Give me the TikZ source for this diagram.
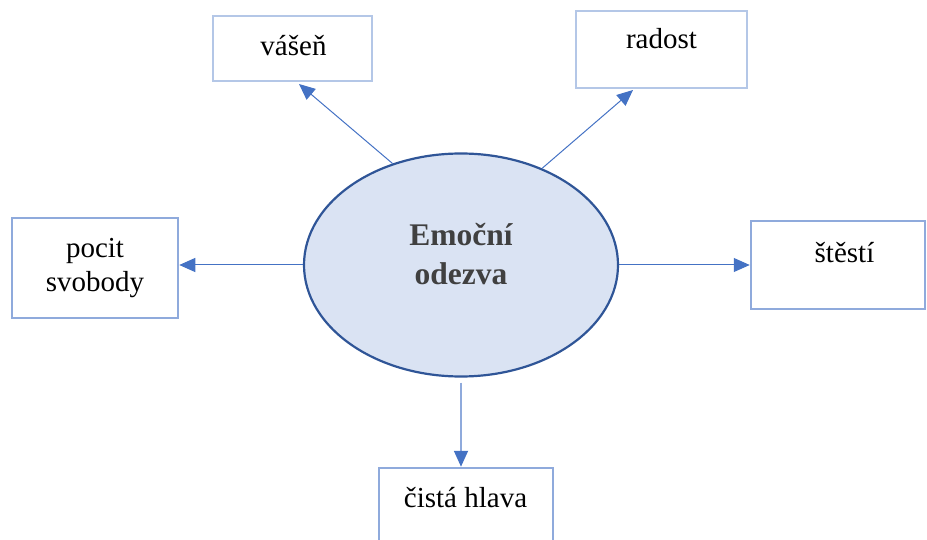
\documentclass[tikz,border=0pt]{standalone}
\usepackage{fontspec}
\setmainfont{Liberation Serif}
\usetikzlibrary{shapes.geometric,arrows.meta}
\definecolor{boxlight}{HTML}{B4C7E7}
\definecolor{boxmid}{HTML}{8FAADC}
\definecolor{arrowblue}{HTML}{4472C4}
\definecolor{ellfill}{HTML}{DAE3F3}
\definecolor{elldraw}{HTML}{2F5597}
\definecolor{elltext}{HTML}{404040}
\tikzset{
  box/.style={draw, line width=2.5pt, minimum width=#1, inner sep=0pt},
  lbl/.style={font=\fontsize{29}{35}\selectfont, align=center, anchor=base, inner sep=0pt},
  conn/.style={draw=arrowblue, line width=1pt, -{Triangle[length=16pt,width=14pt,color=arrowblue]}},
}
\begin{document}
\begin{tikzpicture}[x=1pt,y=-1pt]
\useasboundingbox (0,0) rectangle (927,540);
\clip (0,0) rectangle (927,540);
% central ellipse
\node[ellipse, draw=elldraw, fill=ellfill, line width=2.2pt, minimum width=314pt, minimum height=223pt, inner sep=0pt] (e) at (461,265) {};
\node[font=\fontsize{31.5}{39}\selectfont\bfseries, text=elltext, align=center, anchor=base, inner sep=0pt] (et) at (461,284) {Emoční\\odezva};
% boxes
\node[box=159pt, draw=boxlight, minimum height=65pt] (vasen) at (292.5,48.5) {};
\node[lbl] (vasent) at (293.5,56) {vášeň};
\node[box=171pt, draw=boxlight, minimum height=77pt] (radost) at (661.5,49.5) {};
\node[lbl] (radostt) at (661.5,49) {radost};
\node[box=166pt, draw=boxmid, minimum height=100pt] (pocit) at (95,268) {};
\node[lbl] (pocitt) at (95,292) {pocit\\svobody};
\node[box=174pt, draw=boxmid, minimum height=88pt] (stesti) at (838,265) {};
\node[lbl] (stestit) at (844.5,263) {štěstí};
\node[box=174pt, draw=boxmid, minimum height=100pt] (cista) at (466,518) {};
\node[lbl] (cistat) at (465.5,507) {čistá hlava};
% connectors
\coordinate (tv) at (299,84);
\coordinate (tr) at (633,90);
\draw[conn] (e.124) -- (tv);
\draw[conn] (e.50) -- (tr);
\draw[conn] (e.west) -- (e.west -| pocit.east);
\draw[conn] (e.east) -- (e.east -| stesti.west);
\draw[conn, draw=boxmid, line width=1.8pt, shorten <=5pt] (e.south) -- (e.south |- cista.north);
\end{tikzpicture}
\end{document}
